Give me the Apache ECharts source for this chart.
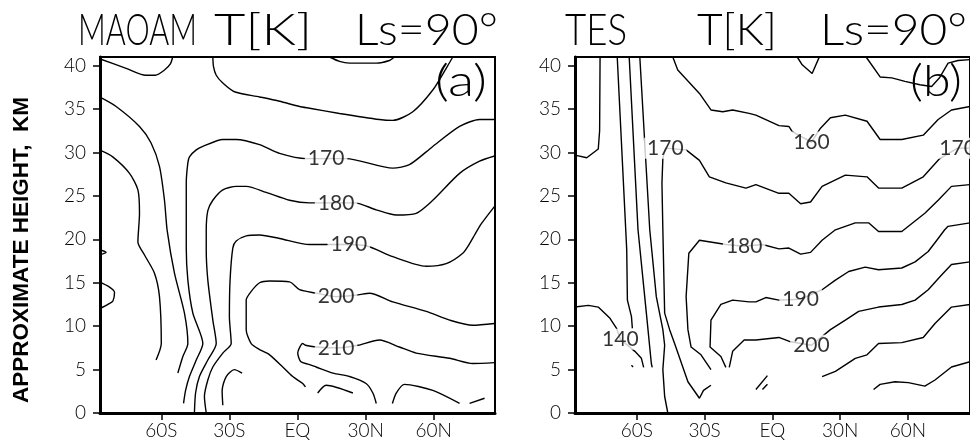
<!DOCTYPE html>
<html>
<head>
<meta charset="utf-8">
<script src="https://cdn.jsdelivr.net/npm/echarts@6/dist/echarts.min.js"></script>
<style>
html, body { margin: 0; padding: 0; background: #fff; }
#chart { width: 970px; height: 442px; }
</style>
</head>
<body>
<div id="chart"></div>
<script>
// axis ticks
var latTicks = [-60, -30, 0, 30, 60];
var latTickLabels = ['60S', '30S', 'EQ', '30N', '60N'];
var heightTicks = [0, 5, 10, 15, 20, 25, 30, 35, 40];

// ---- (a) MAOAM contours, points are [latitude, height km]
var maoamTopLeft = [[-87.2,40.8],[-75.5,39.7],[-66.9,38.9],[-62.6,38.9],[-58.6,39.5],[-56,40.2],[-55,41]];
var maoamTop160 = [[-37.3,41],[-37.0,39.9],[-35.8,38.9],[-32.9,38.0],[-27.8,37.0],[-16.7,36.4],[-7.9,35.9],[0.9,35.3],[5.3,35.1],[18.5,34.5],[36.1,33.8],[42.0,33.7],[50.8,34.7],[59.6,37.2],[65.5,39.7],[68.4,41]];
var maoamTopCap = [[14.1,41],[18.5,40.5],[22.9,40.3],[34.7,40.3],[40.5,40.6],[42.7,41]];
var maoamPolar160 = [[-87.2,36.4],[-79.9,35.3],[-69.6,33.0],[-64.5,31.1],[-60.8,28.4],[-58.6,24.5],[-57.4,21],[-54.2,16.1],[-49.8,11.5],[-48.3,8.0],[-50.5,6.5],[-52.7,4.6]];
var maoamPolar150 = [[-87.2,30.3],[-81.4,29.5],[-74.0,27.6],[-70.3,25.7],[-69.6,23.0],[-70.3,19.7],[-67.4,18.2],[-63.0,16.1],[-60.8,13.4],[-60.0,8.0],[-62.3,6.1]];
var maoamEdgeA = [[-87.2,18.8],[-84.3,18.5],[-87.2,18.2]];
var maoamEdgeB = [[-87.2,15.1],[-82.8,14.5],[-80.6,13.9],[-81.3,12.9],[-83.5,12.5],[-87.2,12.0]];
var maoam170 = [[86.8,33.8],[80.2,33.8],[71.4,33.0],[59.6,30.7],[49.3,28.6],[42.0,28.2],[21.4,29.3],[12.6,29.3],[3.8,29.3],[-7.9,29.9],[-16.7,30.9],[-27.0,31.5],[-32.9,31.5],[-41.7,30.7],[-44.6,30.3],[-47.6,29.5],[-48.3,28.8],[-49.0,26.5],[-49.0,19],[-48.3,15.3],[-46.1,11.5],[-41.7,8.0],[-44.6,6.1],[-47.6,4.2],[-49.3,2.6],[-50.2,1.1]];
var maoam180 = [[86.8,29.6],[80.2,29.0],[71.4,27.6],[59.6,24.5],[52.3,23.0],[43.5,22.8],[34.7,23.4],[25.1,24.2],[17.0,24.2],[8.9,24.2],[5.3,24.2],[-3.5,24.5],[-13.8,25.4],[-22.6,26.1],[-27.0,26.1],[-32.9,25.7],[-37.3,24.5],[-39.5,23.3],[-40.2,21],[-40.2,18.8],[-39.5,15.3],[-37.3,10.7],[-35.8,8.0],[-39.5,6.1],[-43.2,4.2],[-44.9,2.3],[-45.4,0]];
var maoam190 = [[86.8,23.8],[81,21.8],[78,20.5],[75.8,19.5],[72.8,18.4],[65.5,17.2],[56.7,16.9],[42,18.0],[31,19.2],[22.6,19.4],[14,19.4],[5.3,19.4],[-7.9,20.1],[-16.7,20.5],[-22.6,20.4],[-27.0,19.8],[-28.5,19.0],[-29.7,15.3],[-30.0,11.1],[-29.2,8.0],[-32.9,6.9],[-37.3,5.3],[-39.5,3.8],[-41.0,1.9],[-40.2,0]];
var maoam200 = [[86.8,10.3],[77.2,10.1],[67.0,10.7],[56.7,11.7],[42.0,12.8],[31.7,13.8],[26.6,13.6],[17.0,13.4],[8.2,13.8],[0.9,14.2],[-3.5,15.1],[-12.3,15.2],[-16.7,15.0],[-20.4,14.0],[-22.6,13.0],[-22.6,9.6],[-20.4,8.0],[-16.7,7.3],[-12.3,6.7],[-6.5,5.3],[-2.1,4.2],[2.3,3.4],[3.5,3.0]];
var maoam210 = [[86.8,5.8],[77.2,5.7],[67.0,6.3],[52.3,6.9],[44.9,7.6],[36.1,8.4],[26.6,7.8],[17.0,7.5],[8.2,7.6],[3.5,7.8],[2.3,8.0],[0.1,6.9],[1.5,5.9],[5,5.6],[8.2,5.3],[15.6,4.6],[22.9,4.2],[30.2,3.4],[33.2,2.3],[34.7,1.1]];
var maoamHook = [[-32.9,0.9],[-33.2,2.6],[-31.4,4.2],[-27.8,5.0],[-24.4,4.6]];
var maoamLowA = [[8.9,2.3],[12.6,3.2],[24.4,2.3]];
var maoamLowB = [[41.8,1.1],[43.5,2.3],[47.1,3.3],[59.6,2.6],[71.4,1.1]];
var maoamLowC = [[75.8,1.1],[82.4,1.7]];
var maoamLabelText = ['170', '180', '190', '200', '210'];
var maoamLabelAt = [[12.6,29.3],[17.0,24.2],[22.6,19.4],[17.0,13.4],[17.0,7.5]];

// ---- (b) TES contours
var tesLeftTop = [[-87.4,29.7],[-82.2,29.4],[-77.1,30.4],[-76.5,32.5],[-76.3,41]];
var tes140 = [[-87.4,12.2],[-81.5,12.4],[-77.1,12.2],[-71.9,10.9],[-69.0,9.75],[-67.3,8.5],[-60.9,7.1],[-58.0,6.3],[-57.0,5.25]];
var tesPolarA = [[-68.7,41],[-64.5,18.8],[-64.2,13.0],[-62.4,11.1],[-62.0,9.75]];
var tesDot = [[-62.4,5.5],[-61.7,5.3]];
var tesPolarB = [[-63.4,41],[-59.5,21.1],[-55.8,11.5],[-53.6,5.7],[-53.2,5.25]];
var tesPolarC = [[-58.7,41],[-54.3,21.1],[-51.4,13.4],[-48.5,9.6],[-47.7,7.8],[-48.5,5.0],[-47.7,1.9],[-46.3,0]];
var tes170 = [[-27.2,3.2],[-30.5,2.6],[-32.3,1.7],[-37.4,3.6],[-43.3,8.0],[-45.5,9.6],[-47.7,11.5],[-48.5,21.1],[-48.9,26.5],[-48.5,29.3],[-47.4,30.5],[-38.2,30.3],[-32.3,29.1],[-27.9,27.2],[-20.6,26.5],[-11.7,25.9],[-7.3,26.3],[2.9,25.3],[7.3,25.3],[12.5,24.1],[16.9,24.3],[22.0,26.1],[32.3,27.4],[41.9,27.2],[47.0,25.9],[57.3,25.9],[66.8,27.2],[74.1,29.3],[82,30.5],[87.5,30.5]];
var tes160 = [[-44.1,41],[-41.9,39.5],[-32.3,36.8],[-27.2,34.9],[-22.0,34.7],[-17.6,34.9],[-10.3,34.5],[-7.3,34.3],[2.9,33.1],[7.3,33.0],[8.8,32.4],[17.3,31.2],[21.3,32.8],[25.7,34.0],[32.3,34.3],[41.9,33.6],[47.7,31.5],[57.3,31.5],[66.8,32.0],[73.4,33.8],[79.3,34.9],[87.5,35.3]];
var tesTopV = [[11.0,41],[13.2,40.1],[17.6,39.1],[20.6,40.9],[20.9,41]];
var tesTopRight = [[41.5,41],[47.7,38.7],[52.9,38.6],[58.7,38.2],[65.3,37.8],[70.5,37.6],[74,38.6],[77.8,40.3],[82.2,40.6],[87.5,40.7]];
var tes180 = [[-27.2,5.0],[-31.6,6.7],[-36.0,7.6],[-37.4,9.6],[-38.2,13.4],[-37.0,18.4],[-32.3,19.9],[-20.5,19.4],[-12.5,19.2],[-4.4,19.4],[2.9,18.9],[7.3,19.0],[12.5,18.3],[16.9,18.5],[22.0,19.9],[27.9,21.1],[36.7,21.9],[42.6,21.9],[47.0,20.9],[57.3,20.9],[67.5,23.0],[73.4,24.5],[79.3,26.1],[87.5,26.3]];
var tes190 = [[-20.6,5.25],[-22.8,6.5],[-27.6,7.6],[-27.2,10.7],[-22.8,12.5],[-17.6,13.0],[-10.3,12.8],[-7.3,12.8],[-2.9,13.3],[2.9,13.0],[12.5,13.1],[22.0,14.2],[27.9,15.3],[33.8,16.3],[41.1,16.8],[47.0,16.5],[57.3,16.7],[63.2,17.4],[69.0,18.6],[73.4,20.1],[76.3,21.1],[77.8,21.5],[87.5,21.9]];
var tes200 = [[-19.1,5.25],[-17.6,7.1],[-12.5,8.4],[-10.3,8.4],[-7.3,8.4],[2.9,8.7],[8.1,8.2],[17.3,7.8],[25.7,9.6],[32.3,10.7],[38.2,11.7],[47.0,12.2],[57.3,12.5],[63.2,13.0],[69.0,14.2],[74.9,15.9],[79.3,17.1],[87.5,17.4]];
var tes210 = [[22.0,4.2],[27.9,4.8],[36.7,6.3],[41.9,6.7],[47.0,8.0],[57.3,8.1],[66.8,8.7],[72.0,10.3],[79.3,12.2],[87.5,12.5]];
var tes220 = [[44.8,2.7],[47.7,3.3],[54.3,3.6],[60.2,3.5],[67.5,3.1],[72.0,3.8],[79.3,5.3],[87.5,5.9]];
var tesSlashA = [[-7.3,2.7],[-2.2,4.3]];
var tesSlashB = [[-4.4,2.7],[-2.2,3.3]];
var tesLabelText = ['140', '170', '160', '170', '180', '190', '200'];
var tesLabelAt = [[-67.3,8.5],[-47.4,30.5],[17.3,31.2],[82.0,30.5],[-12.5,19.2],[12.5,13.1],[17.3,7.8]];

var maoamLines = [maoamTopLeft, maoamTop160, maoamTopCap, maoamPolar160, maoamPolar150, maoamEdgeA, maoamEdgeB,
    maoam170, maoam180, maoam190, maoam200, maoam210, maoamHook, maoamLowA, maoamLowB, maoamLowC];
var tesLines = [tesLeftTop, tes140, tesPolarA, tesDot, tesPolarB, tesPolarC, tes170, tes160, tesTopV, tesTopRight,
    tes180, tes190, tes200, tes210, tes220, tesSlashA, tesSlashB];

var thinFont = 'Lato';
var titleFont = '300 44px Lato';
var yNameFont = 'bold 22px "Liberation Sans"';

// stretch a text to a given pixel width
var measureCtx = document.createElement('canvas').getContext('2d');
function fitScale(str, font, width) {
    measureCtx.font = font;
    return width / measureCtx.measureText(str).width;
}

function lineSeries(pts, gi, smooth) {
    return {
        type: 'line', xAxisIndex: gi, yAxisIndex: gi,
        data: pts, symbol: 'none', smooth: smooth,
        lineStyle: { color: '#000', width: 1.4 },
        silent: true, z: 2
    };
}
function labelSeries(texts, coords, gi) {
    return {
        type: 'scatter', xAxisIndex: gi, yAxisIndex: gi,
        symbolSize: 1, itemStyle: { color: 'rgba(0,0,0,0)' },
        data: coords.map(function (c, i) { return { value: c, name: texts[i] }; }),
        label: {
            show: true, position: 'inside', formatter: '{b}',
            color: '#000', fontFamily: thinFont, fontSize: 21, fontWeight: 400,
            backgroundColor: '#fff', padding: [0, 3]
        },
        silent: true, z: 5
    };
}
function xAxisFor(gi, min, max) {
    return {
        type: 'value', gridIndex: gi, min: min, max: max,
        axisLine: { show: true, onZero: false, lineStyle: { color: '#000', width: 3 } },
        axisTick: { show: true, customValues: latTicks, length: 7, lineStyle: { color: '#000', width: 1.5 } },
        axisLabel: {
            customValues: latTicks, margin: 8, color: '#000', fontFamily: thinFont, fontWeight: 300, fontSize: 19,
            formatter: function (v) { return latTickLabels[latTicks.indexOf(v)]; }
        },
        splitLine: { show: false }
    };
}
function yAxisFor(gi) {
    return {
        type: 'value', gridIndex: gi, min: 0, max: 41,
        axisLine: { show: true, onZero: false, lineStyle: { color: '#000', width: 3 } },
        axisTick: { show: true, customValues: heightTicks, length: 7, lineStyle: { color: '#000', width: 1.5 } },
        axisLabel: { customValues: heightTicks, margin: 14, color: '#000', fontFamily: thinFont, fontWeight: 300, fontSize: 19 },
        splitLine: { show: false }
    };
}
function fittedText(str, font, left, width, y) {
    return {
        type: 'text', x: left, y: y, scaleX: fitScale(str, font, width), silent: true, z: 10,
        style: { text: str, font: font, fill: '#000', textAlign: 'left', textVerticalAlign: 'middle' }
    };
}

var series = [];
maoamLines.forEach(function (p) { series.push(lineSeries(p, 0, 0.25)); });
tesLines.forEach(function (p) { series.push(lineSeries(p, 1, false)); });
series.push(labelSeries(maoamLabelText, maoamLabelAt, 0));
series.push(labelSeries(tesLabelText, tesLabelAt, 1));

var yName = 'APPROXIMATE HEIGHT,  KM';

var myChart = echarts.init(document.getElementById('chart'));
var option = {
    animation: false,
    backgroundColor: '#fff',
    grid: [
        { left: 100, top: 57, width: 395, height: 356, show: true, borderColor: '#000', borderWidth: 2 },
        { left: 575, top: 57, width: 397, height: 356, show: true, borderColor: '#000', borderWidth: 2 }
    ],
    xAxis: [xAxisFor(0, -87, 87), xAxisFor(1, -87.4, 87.5)],
    yAxis: [yAxisFor(0), yAxisFor(1)],
    graphic: [
        fittedText('MAOAM', titleFont, 78, 119, 31),
        fittedText('T[K]', titleFont, 214, 98, 31),
        fittedText('Ls=90°', titleFont, 355, 143, 31),
        fittedText('TES', titleFont, 565, 62, 31),
        fittedText('T[K]', titleFont, 697, 80, 31),
        fittedText('Ls=90°', titleFont, 820, 147, 31),
        fittedText('(a)', titleFont, 435, 52, 82),
        fittedText('(b)', titleFont, 910, 52, 82),
        {
            type: 'text', x: 22, y: 250, rotation: Math.PI / 2,
            scaleX: fitScale(yName, yNameFont, 306), silent: true,
            style: { text: yName, font: yNameFont, fill: '#000', textAlign: 'center', textVerticalAlign: 'middle' }
        }
    ],
    series: series
};
myChart.setOption(option);
window.addEventListener('resize', function () {
    myChart.resize();
});
</script>
</body>
</html>
